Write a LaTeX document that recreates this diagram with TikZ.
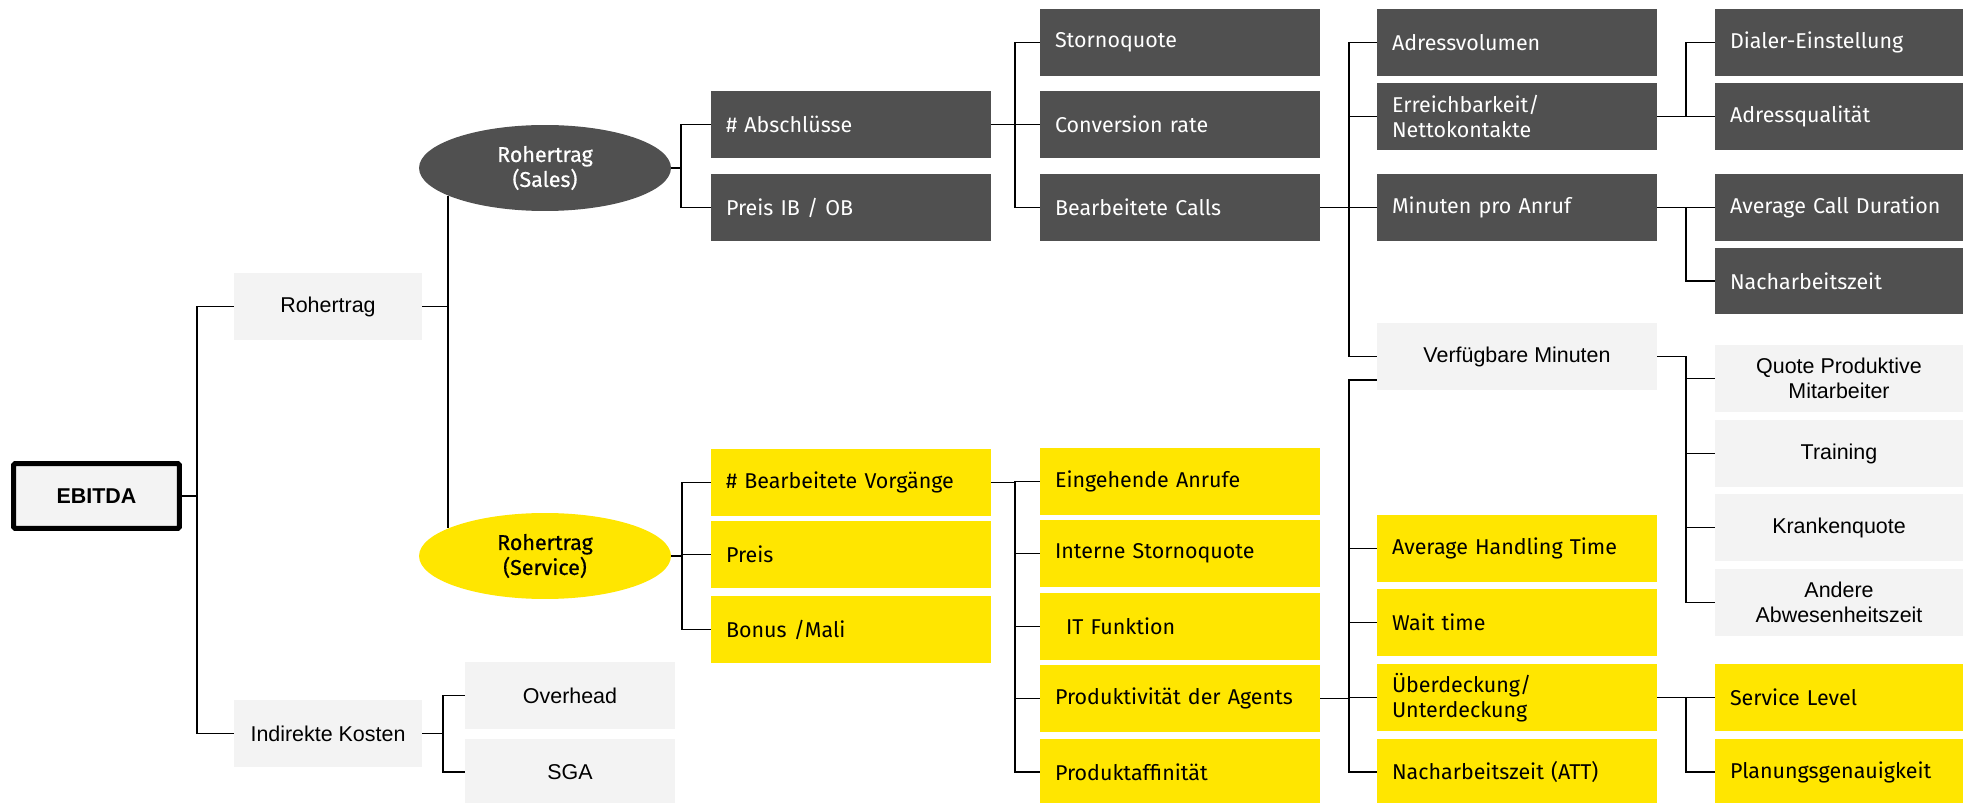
\documentclass[tikz,border=0pt]{standalone}
\usepackage{fontspec}
\setmainfont{Liberation Sans}
\newfontfamily\eyfont{Fira Sans}
\newfontfamily\eymedium[FakeBold=0.6]{Fira Sans}
\usetikzlibrary{shapes.geometric}

\definecolor{eydark}{HTML}{505050}
\definecolor{eyyellow}{HTML}{FFE600}
\definecolor{eylight}{HTML}{F3F3F3}

\newcommand{\eysize}{\fontsize{12.2}{14.2}\selectfont}

\begin{document}
\begin{tikzpicture}[x=0.02cm, y=-0.02cm,
  link/.style={line width=1.1pt},
  box/.style={rectangle, inner xsep=0.3cm, inner ysep=0pt, minimum height=1.34cm},
  wide/.style={text width=5cm},
  narrow/.style={text width=4.36cm},
  darkbox/.style={box, fill=eydark, text=white, font=\eyfont\eysize, align=left},
  yellowbox/.style={box, fill=eyyellow, font=\eyfont\eysize, align=left},
  lightbox/.style={box, fill=eylight, font=\eysize, align=center},
  oval/.style={ellipse, minimum width=5.04cm, minimum height=1.72cm, inner sep=0pt, font=\eymedium\eysize, align=center}]

\useasboundingbox (0,0) rectangle (1964,803);

\node[box, draw, line width=0.1cm, rounded corners=1pt, fill=eylight, minimum width=3.32cm, minimum height=1.3cm, font=\bfseries\eysize] (ebitda) at (96.5,496) {EBITDA};

\node[lightbox, minimum width=3.76cm] (rohertrag) at (328,306.5) {Rohertrag};
\node[lightbox, minimum width=3.76cm] (indirekte) at (328,733.5) {Indirekte Kosten};
\node[lightbox, minimum width=4.2cm] (overhead) at (570,695.5) {Overhead};
\node[lightbox, minimum width=4.2cm] (sga) at (570,772) {SGA};

\node[oval, fill=eydark, text=white] (sales) at (545,168) {Rohertrag\\(Sales)};
\node[oval, fill=eyyellow] (service) at (545,556) {Rohertrag\\(Service)};

% Sales
\node[darkbox, wide] (abschluesse) at (851,124.5) {\# Abschlüsse};
\node[darkbox, wide] (preisib) at (851,207.5) {Preis IB / OB};
\node[darkbox, wide] (storno) at (1180,42.5) {Stornoquote};
\node[darkbox, wide] (conversion) at (1180,124.5) {Conversion rate};
\node[darkbox, wide] (calls) at (1180,207.5) {Bearbeitete Calls};
\node[darkbox, wide] (adressvol) at (1517,42.5) {Adressvolumen};
\node[darkbox, wide] (erreichbar) at (1517,116.5) {Erreichbarkeit/\\Nettokontakte};
\node[darkbox, wide] (minuten) at (1517,207.5) {Minuten pro Anruf};
\node[darkbox, narrow] (dialer) at (1839,42.5) {Dialer-Einstellung};
\node[darkbox, narrow] (adressqual) at (1839,116.5) {Adressqualität};
\node[darkbox, narrow] (callduration) at (1839,207.5) {Average Call Duration};
\node[darkbox, narrow] (nacharbeit) at (1839,281) {Nacharbeitszeit};

% Verfuegbare Minuten
\node[lightbox, minimum width=5.6cm] (verfuegbar) at (1517,356.5) {Verfügbare Minuten};
\node[lightbox, minimum width=4.96cm] (quote) at (1839,378.5) {Quote Produktive\\Mitarbeiter};
\node[lightbox, minimum width=4.96cm] (training) at (1839,453.5) {Training};
\node[lightbox, minimum width=4.96cm] (kranken) at (1839,527.5) {Krankenquote};
\node[lightbox, minimum width=4.96cm] (andere) at (1839,602.5) {Andere\\Abwesenheitszeit};

% Service
\node[yellowbox, wide] (vorgaenge) at (851,482.5) {\# Bearbeitete Vorgänge};
\node[yellowbox, wide] (preis) at (851,554.5) {Preis};
\node[yellowbox, wide] (bonus) at (851,629.5) {Bonus /Mali};
\node[yellowbox, wide] (eingehend) at (1180,481.5) {Eingehende Anrufe};
\node[yellowbox, wide] (interne) at (1180,553.5) {Interne Stornoquote};
\node[yellowbox, wide] (itfunktion) at (1180,626.5) {\hspace*{0.22cm}IT Funktion};
\node[yellowbox, wide] (produktiv) at (1180,698.5) {Produktivität der Agents};
\node[yellowbox, wide] (affinitaet) at (1180,772) {Produktaffinität};
\node[yellowbox, wide] (aht) at (1517,548.5) {Average Handling Time};
\node[yellowbox, wide] (wait) at (1517,622.5) {Wait time};
\node[yellowbox, wide] (ueberdeck) at (1517,697.5) {Überdeckung/\\Unterdeckung};
\node[yellowbox, wide] (att) at (1517,772) {Nacharbeitszeit (ATT)};
\node[yellowbox, narrow] (servicelevel) at (1839,697.5) {Service Level};
\node[yellowbox, narrow] (planung) at (1839,772) {Planungsgenauigkeit};

% connectors
\draw[link] (ebitda.east) -- ++(15,0) |- (rohertrag.west);
\draw[link] (ebitda.east) -- ++(15,0) |- (indirekte.west);
\draw[link] (rohertrag.east) -| (sales.196);
\draw[link] (rohertrag.east) -| (service.164);
\foreach \c in {overhead,sga}
  \draw[link] (indirekte.east) -- ++(21,0) |- (\c.west);
\foreach \c in {abschluesse,preisib}
  \draw[link] (sales.east) -- ++(10,0) |- (\c.west);
\foreach \c in {vorgaenge,preis,bonus}
  \draw[link] (service.east) -- ++(11,0) |- (\c.west);
\foreach \c in {storno,conversion,calls}
  \draw[link] (abschluesse.east) -- ++(24,0) |- (\c.west);
\foreach \c in {eingehend,interne,itfunktion,produktiv,affinitaet}
  \draw[link] (vorgaenge.east) -- ++(24,0) |- (\c.west);
\foreach \c in {adressvol,erreichbar,minuten,verfuegbar}
  \draw[link] (calls.east) -- ++(29,0) |- (\c.west);
\foreach \c in {aht,wait,ueberdeck,att}
  \draw[link] (produktiv.east) -- ++(29,0) |- (\c.west);
\draw[link] (produktiv.east) -- ++(29,0) |- ([yshift=0.2cm]verfuegbar.south west);
\foreach \c in {dialer,adressqual}
  \draw[link] (erreichbar.east) -- ++(29,0) |- (\c.west);
\foreach \c in {callduration,nacharbeit}
  \draw[link] (minuten.east) -- ++(29,0) |- (\c.west);
\foreach \c in {quote,training,kranken,andere}
  \draw[link] (verfuegbar.east) -- ++(29,0) |- (\c.west);
\foreach \c in {servicelevel,planung}
  \draw[link] (ueberdeck.east) -- ++(29,0) |- (\c.west);

\end{tikzpicture}
\end{document}
